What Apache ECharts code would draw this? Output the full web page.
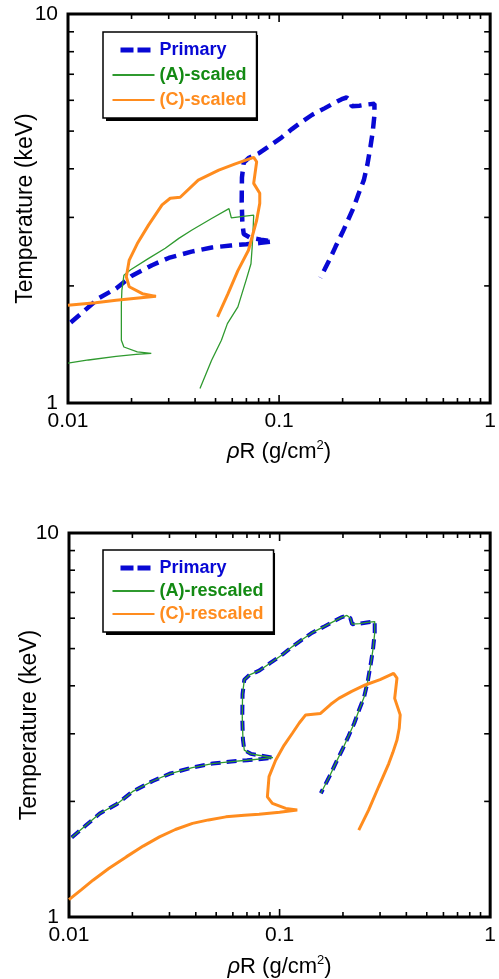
<!DOCTYPE html>
<html>
<head>
<meta charset="utf-8">
<script src="https://cdn.jsdelivr.net/npm/echarts@6/dist/echarts.min.js"></script>
<style>
  html, body { margin: 0; padding: 0; background: #fff; }
  #chart { width: 499px; height: 979px; }
</style>
</head>
<body>
<div id="chart"></div>
<script>
// rhoR (g/cm2), temperature (keV)
const primary = [
  [0.0103,1.61],[0.012,1.73],[0.014,1.86],[0.0169,1.97],[0.020,2.12],[0.025,2.26],[0.030,2.36],
  [0.0385,2.45],[0.048,2.51],[0.059,2.54],[0.070,2.56],[0.082,2.58],[0.093,2.60],[0.082,2.63],
  [0.073,2.66],[0.068,2.72],[0.067,2.9],[0.0665,3.3],[0.0667,3.8],[0.068,4.15],[0.072,4.27],
  [0.080,4.38],[0.090,4.58],[0.103,4.82],[0.115,5.06],[0.128,5.28],[0.143,5.5],[0.164,5.72],
  [0.180,5.88],[0.198,6.04],[0.209,6.10],[0.217,6.0],[0.221,5.79],[0.240,5.81],[0.260,5.85],
  [0.283,5.88],[0.283,5.5],[0.278,5.0],[0.271,4.56],[0.262,4.1],[0.252,3.74],[0.238,3.45],
  [0.226,3.19],[0.212,2.95],[0.200,2.75],[0.185,2.52],[0.173,2.33],[0.164,2.2],[0.157,2.1]
];
const aScaled = [
  [0.0100,1.267],[0.0125,1.29],[0.0169,1.318],[0.021,1.333],[0.0248,1.342],[0.0213,1.353],
  [0.0184,1.393],[0.0179,1.45],[0.0179,1.6],[0.0179,1.8],[0.018,1.95],[0.0184,2.13],[0.0198,2.2],
  [0.024,2.35],[0.0289,2.5],[0.0335,2.65],[0.0385,2.78],[0.0479,2.98],[0.0579,3.16],[0.0594,2.99],
  [0.0675,3.02],[0.0758,3.04],[0.0752,2.73],[0.0745,2.5],[0.0736,2.28],[0.0698,2.07],
  [0.0638,1.766],[0.0569,1.6],[0.0533,1.45],[0.0479,1.288],[0.0422,1.089]
];
const cScaled = [
  [0.0100,1.784],[0.0135,1.81],[0.0169,1.837],[0.021,1.86],[0.0261,1.88],[0.0225,1.91],
  [0.0195,1.99],[0.0189,2.11],[0.0195,2.33],[0.0213,2.57],[0.0241,2.87],[0.0279,3.23],
  [0.0305,3.36],[0.034,3.38],[0.0414,3.74],[0.0518,3.97],[0.062,4.12],[0.0758,4.28],
  [0.0783,4.17],[0.0758,3.67],[0.081,3.46],[0.081,3.26],[0.0783,2.95],[0.0716,2.47],
  [0.0638,2.19],[0.0573,1.91],[0.0511,1.665]
];
// (A)-rescaled sits right on top of the primary curve
const aRescaled = primary;
const cRescaled = [
  [0.0100,1.11],[0.0115,1.18],[0.013,1.247],[0.0155,1.34],[0.0187,1.434],[0.0225,1.53],
  [0.0269,1.617],[0.032,1.69],[0.0386,1.753],[0.046,1.79],[0.0556,1.823],[0.068,1.84],
  [0.0799,1.853],[0.100,1.875],[0.1213,1.90],[0.107,1.918],[0.0924,1.976],[0.0875,2.056],
  [0.0891,2.32],[0.0958,2.56],[0.105,2.8],[0.115,3.01],[0.124,3.2],[0.133,3.36],[0.1565,3.39],
  [0.175,3.58],[0.191,3.71],[0.22,3.87],[0.255,4.02],[0.30,4.15],[0.348,4.31],[0.361,4.19],
  [0.352,3.71],[0.374,3.36],[0.370,3.1],[0.361,2.89],[0.345,2.68],[0.330,2.51],[0.295,2.18],
  [0.265,1.90],[0.2377,1.683]
];
const xMinorTicks = [0.02,0.03,0.04,0.05,0.06,0.07,0.08,0.09,0.2,0.3,0.4,0.5,0.6,0.7,0.8,0.9];
const xMidTicks = [0.1];
const yMinorTicks = [2,3,4,5,6,7,8,9];

const BLUE = '#0808d4', GREEN = '#2f9a2f', GREEN_TXT = '#138a13', ORANGE = '#ff8c1e';
const FONT = 'Arial, "Liberation Sans", sans-serif';

let chart = echarts.init(document.getElementById('chart'));

function xAxisOpt(gi, gap) {
  return {
    type: 'log', logBase: 10, gridIndex: gi, min: 0.01, max: 1,
    axisLine: { show: false }, axisTick: { show: false }, splitLine: { show: false },
    axisLabel: {
      fontSize: 21, color: '#000', fontFamily: FONT, margin: 8,
      showMinLabel: true, showMaxLabel: true,
      formatter: v => String(+(+v).toPrecision(2))
    },
    name: '{r|ρ}R (g/cm{s|2})', nameLocation: 'middle', nameGap: gap, nameMoveOverlap: false,
    nameTextStyle: {
      fontSize: 22, color: '#000', fontFamily: FONT,
      rich: {
        r: { fontSize: 22, fontStyle: 'italic', fontFamily: FONT, color: '#000' },
        s: { fontSize: 13, fontFamily: FONT, color: '#000', padding: [0, 0, 12, 0] }
      }
    }
  };
}
function yAxisOpt(gi, gap) {
  return {
    type: 'log', logBase: 10, gridIndex: gi, min: 1, max: 10,
    axisLine: { show: false }, axisTick: { show: false }, splitLine: { show: false },
    axisLabel: {
      fontSize: 21, color: '#000', fontFamily: FONT, margin: 10,
      showMinLabel: true, showMaxLabel: true,
      formatter: v => String(Math.round(v))
    },
    name: 'Temperature (keV)', nameLocation: 'middle', nameGap: gap, nameRotate: 90,
    nameMoveOverlap: false,
    nameTextStyle: { fontSize: 23, color: '#000', fontFamily: FONT }
  };
}

// inward ticks on all four sides
function tickSeries(gi) {
  let data = [];
  xMinorTicks.forEach(v => data.push([v, 1, 5, 0]));
  xMidTicks.forEach(v => data.push([v, 1, 8, 0]));
  yMinorTicks.forEach(v => data.push([0.01, v, 6, 1]));
  return {
    type: 'custom', xAxisIndex: gi, yAxisIndex: gi, silent: true, z: 5,
    encode: { x: 0, y: 1 }, data: data,
    renderItem: function (params, api) {
      let len = api.value(2);
      let st = { stroke: '#000', lineWidth: 1.6 };
      if (api.value(3) === 0) {
        let v = api.value(0);
        let b = api.coord([v, 1]), t = api.coord([v, 10]);
        return { type: 'group', children: [
          { type: 'line', shape: { x1: b[0], y1: b[1], x2: b[0], y2: b[1] - len }, style: st },
          { type: 'line', shape: { x1: t[0], y1: t[1], x2: t[0], y2: t[1] + len }, style: st }
        ] };
      }
      let v = api.value(1);
      let l = api.coord([0.01, v]), r = api.coord([1, v]);
      return { type: 'group', children: [
        { type: 'line', shape: { x1: l[0], y1: l[1], x2: l[0] + len, y2: l[1] }, style: st },
        { type: 'line', shape: { x1: r[0], y1: r[1], x2: r[0] - len, y2: r[1] }, style: st }
      ] };
    }
  };
}

function lineSeries(name, data, gi, color, width, dash) {
  return {
    name: name, type: 'line', xAxisIndex: gi, yAxisIndex: gi, data: data,
    symbol: 'none', showSymbol: false, smooth: false, z: 3,
    itemStyle: { color: color },
    lineStyle: { color: color, width: width, type: dash || 'solid' }
  };
}

// legend box; the "shadow" copy is the same box, black and empty, set 3px down-right
function legendOpt(left, top, names, colors, gap, shadow) {
  let base = {
    orient: 'vertical', left: left, top: top, itemWidth: 42, itemHeight: 12, itemGap: gap,
    padding: [8, 10, 8, 7], selectedMode: false,
    itemStyle: { opacity: 0 },
    textStyle: { fontSize: 18, fontWeight: 'bold', fontFamily: FONT, lineHeight: 20 }
  };
  if (shadow) {
    return Object.assign(base, {
      z: 5, backgroundColor: '#000', borderWidth: 0,
      lineStyle: { opacity: 0 },
      textStyle: Object.assign({}, base.textStyle, { color: 'rgba(0,0,0,0)' }),
      data: names
    });
  }
  return Object.assign(base, {
    z: 6, backgroundColor: '#fff', borderColor: '#000', borderWidth: 1.5,
    data: names.map((n, i) => {
      let item = { name: n, textStyle: { color: colors[i] } };
      if (i === 0) item.lineStyle = { width: 5, type: [0, 8, 13, 4, 13, 10] };
      return item;
    })
  });
}

const topNames = ['Primary', '(A)-scaled', '(C)-scaled'];
const botNames = ['Primary', '(A)-rescaled', '(C)-rescaled'];
const legColors = [BLUE, GREEN_TXT, ORANGE];

let option = {
  animation: false,
  backgroundColor: '#fff',
  grid: [
    { left: 68, top: 14, width: 426, height: 389, show: true, borderColor: '#000', borderWidth: 3, backgroundColor: 'transparent' },
    { left: 69, top: 533, width: 423, height: 384, show: true, borderColor: '#000', borderWidth: 3, backgroundColor: 'transparent' }
  ],
  xAxis: [xAxisOpt(0, 36), xAxisOpt(1, 37)],
  yAxis: [yAxisOpt(0, 31), yAxisOpt(1, 28)],
  legend: [
    legendOpt(106, 35, topNames, legColors, 5, true),
    legendOpt(103, 32, topNames, legColors, 5, false),
    legendOpt(106, 553, botNames, legColors, 3, true),
    legendOpt(103, 550, botNames, legColors, 3, false)
  ],
  series: [
    lineSeries('Primary', primary, 0, BLUE, 4.5, [12, 7]),
    lineSeries('(A)-scaled', aScaled, 0, GREEN, 1.3),
    lineSeries('(C)-scaled', cScaled, 0, ORANGE, 3),
    lineSeries('Primary', primary, 1, BLUE, 4, [10, 6]),
    lineSeries('(A)-rescaled', aRescaled, 1, GREEN, 1.3),
    lineSeries('(C)-rescaled', cRescaled, 1, ORANGE, 3),
    tickSeries(0),
    tickSeries(1)
  ]
};
chart.setOption(option);
</script>
</body>
</html>
